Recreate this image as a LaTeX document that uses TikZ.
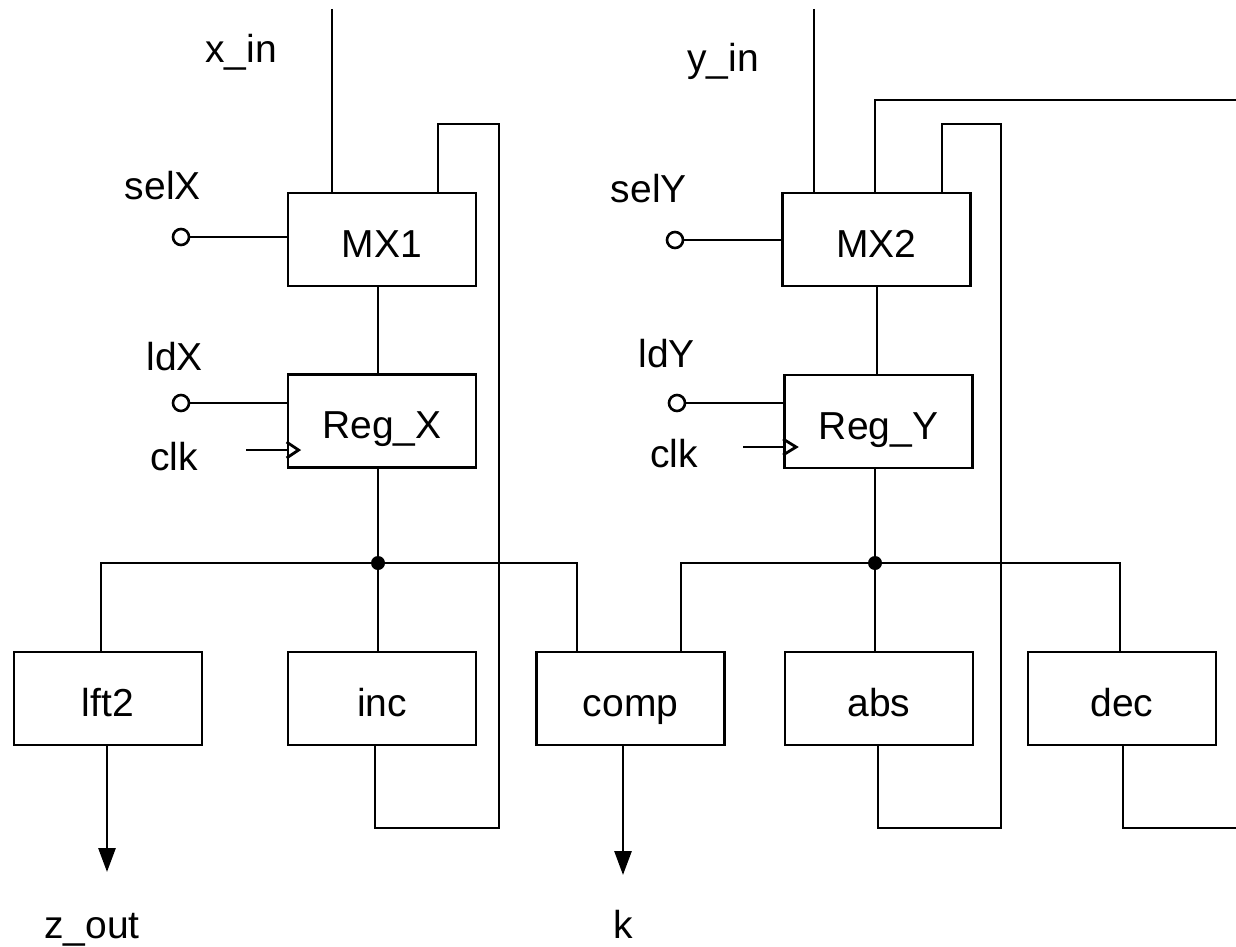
\documentclass[tikz,border=0pt]{standalone}
\usepackage{fontspec}
\newfontfamily\lblfont{Liberation Sans}
\newcommand\lblsize{\lblfont\fontsize{39}{46}\selectfont}
\usetikzlibrary{calc,arrows.meta}
\tikzset{
  blk/.style={draw, line width=2.8pt, minimum width=188pt, minimum height=93pt,
    inner sep=0pt, text height=35pt, text depth=0pt, font=\lblsize},
  wire/.style={line width=2.8pt},
  arr/.style={line width=2.8pt, -{Triangle[length=24pt,width=17pt]}},
  lab/.style={font=\lblsize, inner sep=0pt},
  pinc/.style={circle, draw, fill=white, line width=2.6pt, minimum size=16pt, inner sep=0pt},
  dotc/.style={circle, fill=black, minimum size=14pt, inner sep=0pt}
}
\begin{document}
\begin{tikzpicture}[x=1pt,y=-1pt]
\useasboundingbox (0,0) rectangle (1236,947);
% blocks
\node[blk] (mx1)  at (382,239.5) {MX1};
\node[blk] (regx) at (382,421)   {Reg\_X};
\node[blk] (mx2)  at (876.5,239.5) {MX2};
\node[blk] (regy) at (878.5,421.5) {Reg\_Y};
\node[blk] (lft2) at (108,698.5) {lft2};
\node[blk] (inc)  at (382,698.5) {inc};
\node[blk] (comp) at (630.5,698.5) {comp};
\node[blk] (abs)  at (879,698.5) {abs};
\node[blk] (dec)  at (1122,698.5) {dec};
% labels
\node[lab, anchor=base west] (lxin) at (205,63) {x\_in};
\node[lab, anchor=base east] (lselx) at (201,199) {selX};
\node[lab, anchor=base east] (lldx) at (203,370) {ldX};
\node[lab, anchor=base east] (lclkx) at (198,470) {clk};
\node[lab, anchor=base west] (lyin) at (687,72) {y\_in};
\node[lab, anchor=base east] (lsely) at (687,202) {selY};
\node[lab, anchor=base east] (lldy) at (695,367) {ldY};
\node[lab, anchor=base east] (lclky) at (698,467) {clk};
\node[lab, anchor=base east] (lz) at (140,938) {z\_out};
\node[lab, anchor=base] (lk) at (623,938) {k};
% coordinates
\coordinate (xin) at (332,9);
\coordinate (yin) at (814,9);
\coordinate (bx) at (378,563);
\coordinate (by) at (875,563);
\coordinate (my) at (877,0);
\coordinate (lB) at (101,563);
\coordinate (cA) at (577,563);
\coordinate (cB) at (681,563);
\coordinate (dT) at (1120,563);
\coordinate (fx1) at (375,828);
\coordinate (fx2) at (499,124);
\coordinate (fx3) at (438,124);
\coordinate (fy1) at (878,828);
\coordinate (fy2) at (1001,124);
\coordinate (fy3) at (942,124);
\coordinate (tl) at (875,100);
\coordinate (tr) at (1236,100);
\coordinate (dd) at (1123,828);
\coordinate (de) at (1236,828);
\coordinate (zo) at (107,872);
\coordinate (ko) at (623,875);
\coordinate (ckx) at (246,450);
\coordinate (cky) at (743,447);
% control pins
\node[pinc] (sx) at (181,237) {};
\node[pinc] (lx) at (181,403) {};
\node[pinc] (sy) at (675,240) {};
\node[pinc] (ly) at (677,403) {};
\draw[wire] (sx) -- (sx -| mx1.west);
\draw[wire] (lx) -- (lx -| regx.west);
\draw[wire] (sy) -- (sy -| mx2.west);
\draw[wire] (ly) -- (ly -| regy.west);
% clocks
\draw[wire] (ckx) -- (ckx -| regx.west);
\draw[wire] ($(ckx -| regx.west)+(0,-8)$) -- ++(12,8) -- ++(-12,8);
\draw[wire] (cky) -- (cky -| regy.west);
\draw[wire] ($(cky -| regy.west)+(0,-8)$) -- ++(13,8) -- ++(-13,8);
% X datapath
\draw[wire] (xin) -- (xin |- mx1.north);
\draw[wire] (mx1.south -| bx) -- (regx.north -| bx);
\draw[wire] (regx.south -| bx) -- (bx);
\draw[wire] (lft2.north -| lB) -- (lB) -- (cA) -- (cA |- comp.north);
\draw[wire] (bx) -- (bx |- inc.north);
\draw[wire, line join=miter] (inc.south -| fx1) -- (fx1) -- (fx1 -| fx2) -- (fx2) -- (fx3) -- (fx3 |- mx1.north);
% Y datapath
\draw[wire] (yin) -- (yin |- mx2.north);
\draw[wire] (mx2.south -| my) -- (regy.north -| my);
\draw[wire] (regy.south -| by) -- (by);
\draw[wire] (comp.north -| cB) -- (cB) -- (dT) -- (dT |- dec.north);
\draw[wire] (by) -- (by |- abs.north);
\draw[wire, line join=miter] (abs.south -| fy1) -- (fy1) -- (fy1 -| fy2) -- (fy2) -- (fy3) -- (fy3 |- mx2.north);
\draw[wire] (mx2.north -| tl) -- (tl) -- (tr);
\draw[wire] (dec.south -| dd) -- (dd) -- (de);
% junction dots
\node[dotc] (jx) at (bx) {};
\node[dotc] (jy) at (by) {};
% outputs
\draw[arr] (lft2.south -| zo) -- (zo);
\draw[arr] (comp.south -| ko) -- (ko);
\end{tikzpicture}
\end{document}
